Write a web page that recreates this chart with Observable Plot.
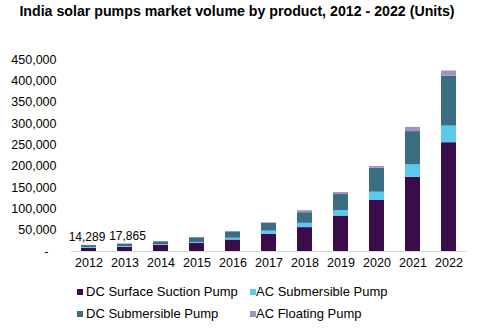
<!DOCTYPE html>
<html>
<head>
<meta charset="utf-8">
<script src="https://cdn.jsdelivr.net/npm/d3@7"></script>
<script src="https://cdn.jsdelivr.net/npm/@observablehq/plot@0.6"></script>
<style>
  html, body { margin: 0; padding: 0; background: #fff; }
  body { width: 478px; height: 328px; position: relative; font-family: "Liberation Sans", Arial, sans-serif; overflow: hidden; }
  #title { position: absolute; left: 0; top: 3px; width: 474px; text-align: center; font-size: 14.2px; font-weight: bold; color: #000; white-space: nowrap; line-height: 17px; }
  #chart { position: absolute; left: 0; top: 30px; }
  .leg { position: absolute; font-size: 13px; color: #000; white-space: nowrap; line-height: 15px; }
  .sw { position: absolute; width: 6px; height: 6px; }
</style>
</head>
<body>
<div id="title">India solar pumps market volume by product, 2012 - 2022 (Units)</div>
<div id="chart"></div>
<div id="legend"></div>
<script>
const years = ["2012","2013","2014","2015","2016","2017","2018","2019","2020","2021","2022"];
const products = ["DC Surface Suction Pump","AC Submersible Pump","DC Submersible Pump","AC Floating Pump"];
const colors = ["#3a0d4a","#5cc8ee","#3b6d83","#a294c2"];
const dcSurface = [7600, 9600, 14000, 18700, 27000, 40000, 56000, 83000, 119500, 174000, 255000];
const acSub     = [1800, 2100, 2000, 2500, 4000, 7800, 10000, 13000, 19500, 29000, 39000];
const dcSub     = [4450, 5600, 6800, 11000, 15000, 18000, 25000, 37500, 56000, 78000, 117000];
const acFloat   = [439, 565, 700, 800, 1000, 1500, 4700, 4700, 4300, 10000, 12000];
const labelYears = ["2012","2013"];
const labelValues = [14289, 17865];
const yTicks = [50000,100000,150000,200000,250000,300000,350000,400000,450000];

const series = [dcSurface, acSub, dcSub, acFloat];
const rows = [];
years.forEach((y, i) => products.forEach((p, j) => rows.push({year: y, product: p, value: series[j][i]})));
const labels = labelYears.map((y, i) => ({year: y, value: labelValues[i]}));
const fmt = d3.format(",");

const chart = Plot.plot({
  width: 478,
  height: 245,
  marginLeft: 71,
  marginRight: 11,
  marginTop: 29,
  marginBottom: 24,
  style: {fontFamily: "'Liberation Sans', Arial, sans-serif", fontSize: "12px", color: "#000", background: "#fff"},
  x: {domain: years, paddingInner: 0.58, paddingOuter: 0.29, label: null},
  y: {domain: [0, 450000], label: null},
  color: {domain: products, range: colors},
  marks: [
    Plot.barY(rows, {x: "year", y: "value", fill: "product", z: "product", order: products}),
    Plot.ruleY([0], {stroke: "#d9d9d9", strokeWidth: 1}),
    Plot.axisX({tickSize: 0, tickPadding: 7, fontSize: 12.5, label: null}),
    Plot.axisY(yTicks, {tickSize: 0, tickPadding: 15, fontSize: 12.5, label: null, tickFormat: fmt}),
    Plot.axisY([0], {tickSize: 0, tickPadding: 23, fontSize: 12.5, label: null, tickFormat: () => "-"}),
    Plot.text(labels.slice(0, 1), {x: "year", y: "value", text: d => fmt(d.value), lineAnchor: "bottom", dy: -4, dx: -2, fontSize: 12, fill: "#000"}),
    Plot.text(labels.slice(1), {x: "year", y: "value", text: d => fmt(d.value), lineAnchor: "bottom", dy: -4, dx: 2.5, fontSize: 12, fill: "#000"})
  ]
});
document.getElementById("chart").appendChild(chart);

const legend = document.getElementById("legend");
const pos = [
  {sx: 77, tx: 86, y: 292},
  {sx: 250, tx: 256, y: 292},
  {sx: 77, tx: 86, y: 314},
  {sx: 250, tx: 256, y: 314}
];
products.forEach((p, i) => {
  const sw = document.createElement("div");
  sw.className = "sw";
  sw.style.left = pos[i].sx + "px";
  sw.style.top = (pos[i].y - 3) + "px";
  sw.style.background = colors[i];
  legend.appendChild(sw);
  const t = document.createElement("div");
  t.className = "leg";
  t.style.left = pos[i].tx + "px";
  t.style.top = (pos[i].y - 8) + "px";
  t.textContent = p;
  legend.appendChild(t);
});
</script>
</body>
</html>
